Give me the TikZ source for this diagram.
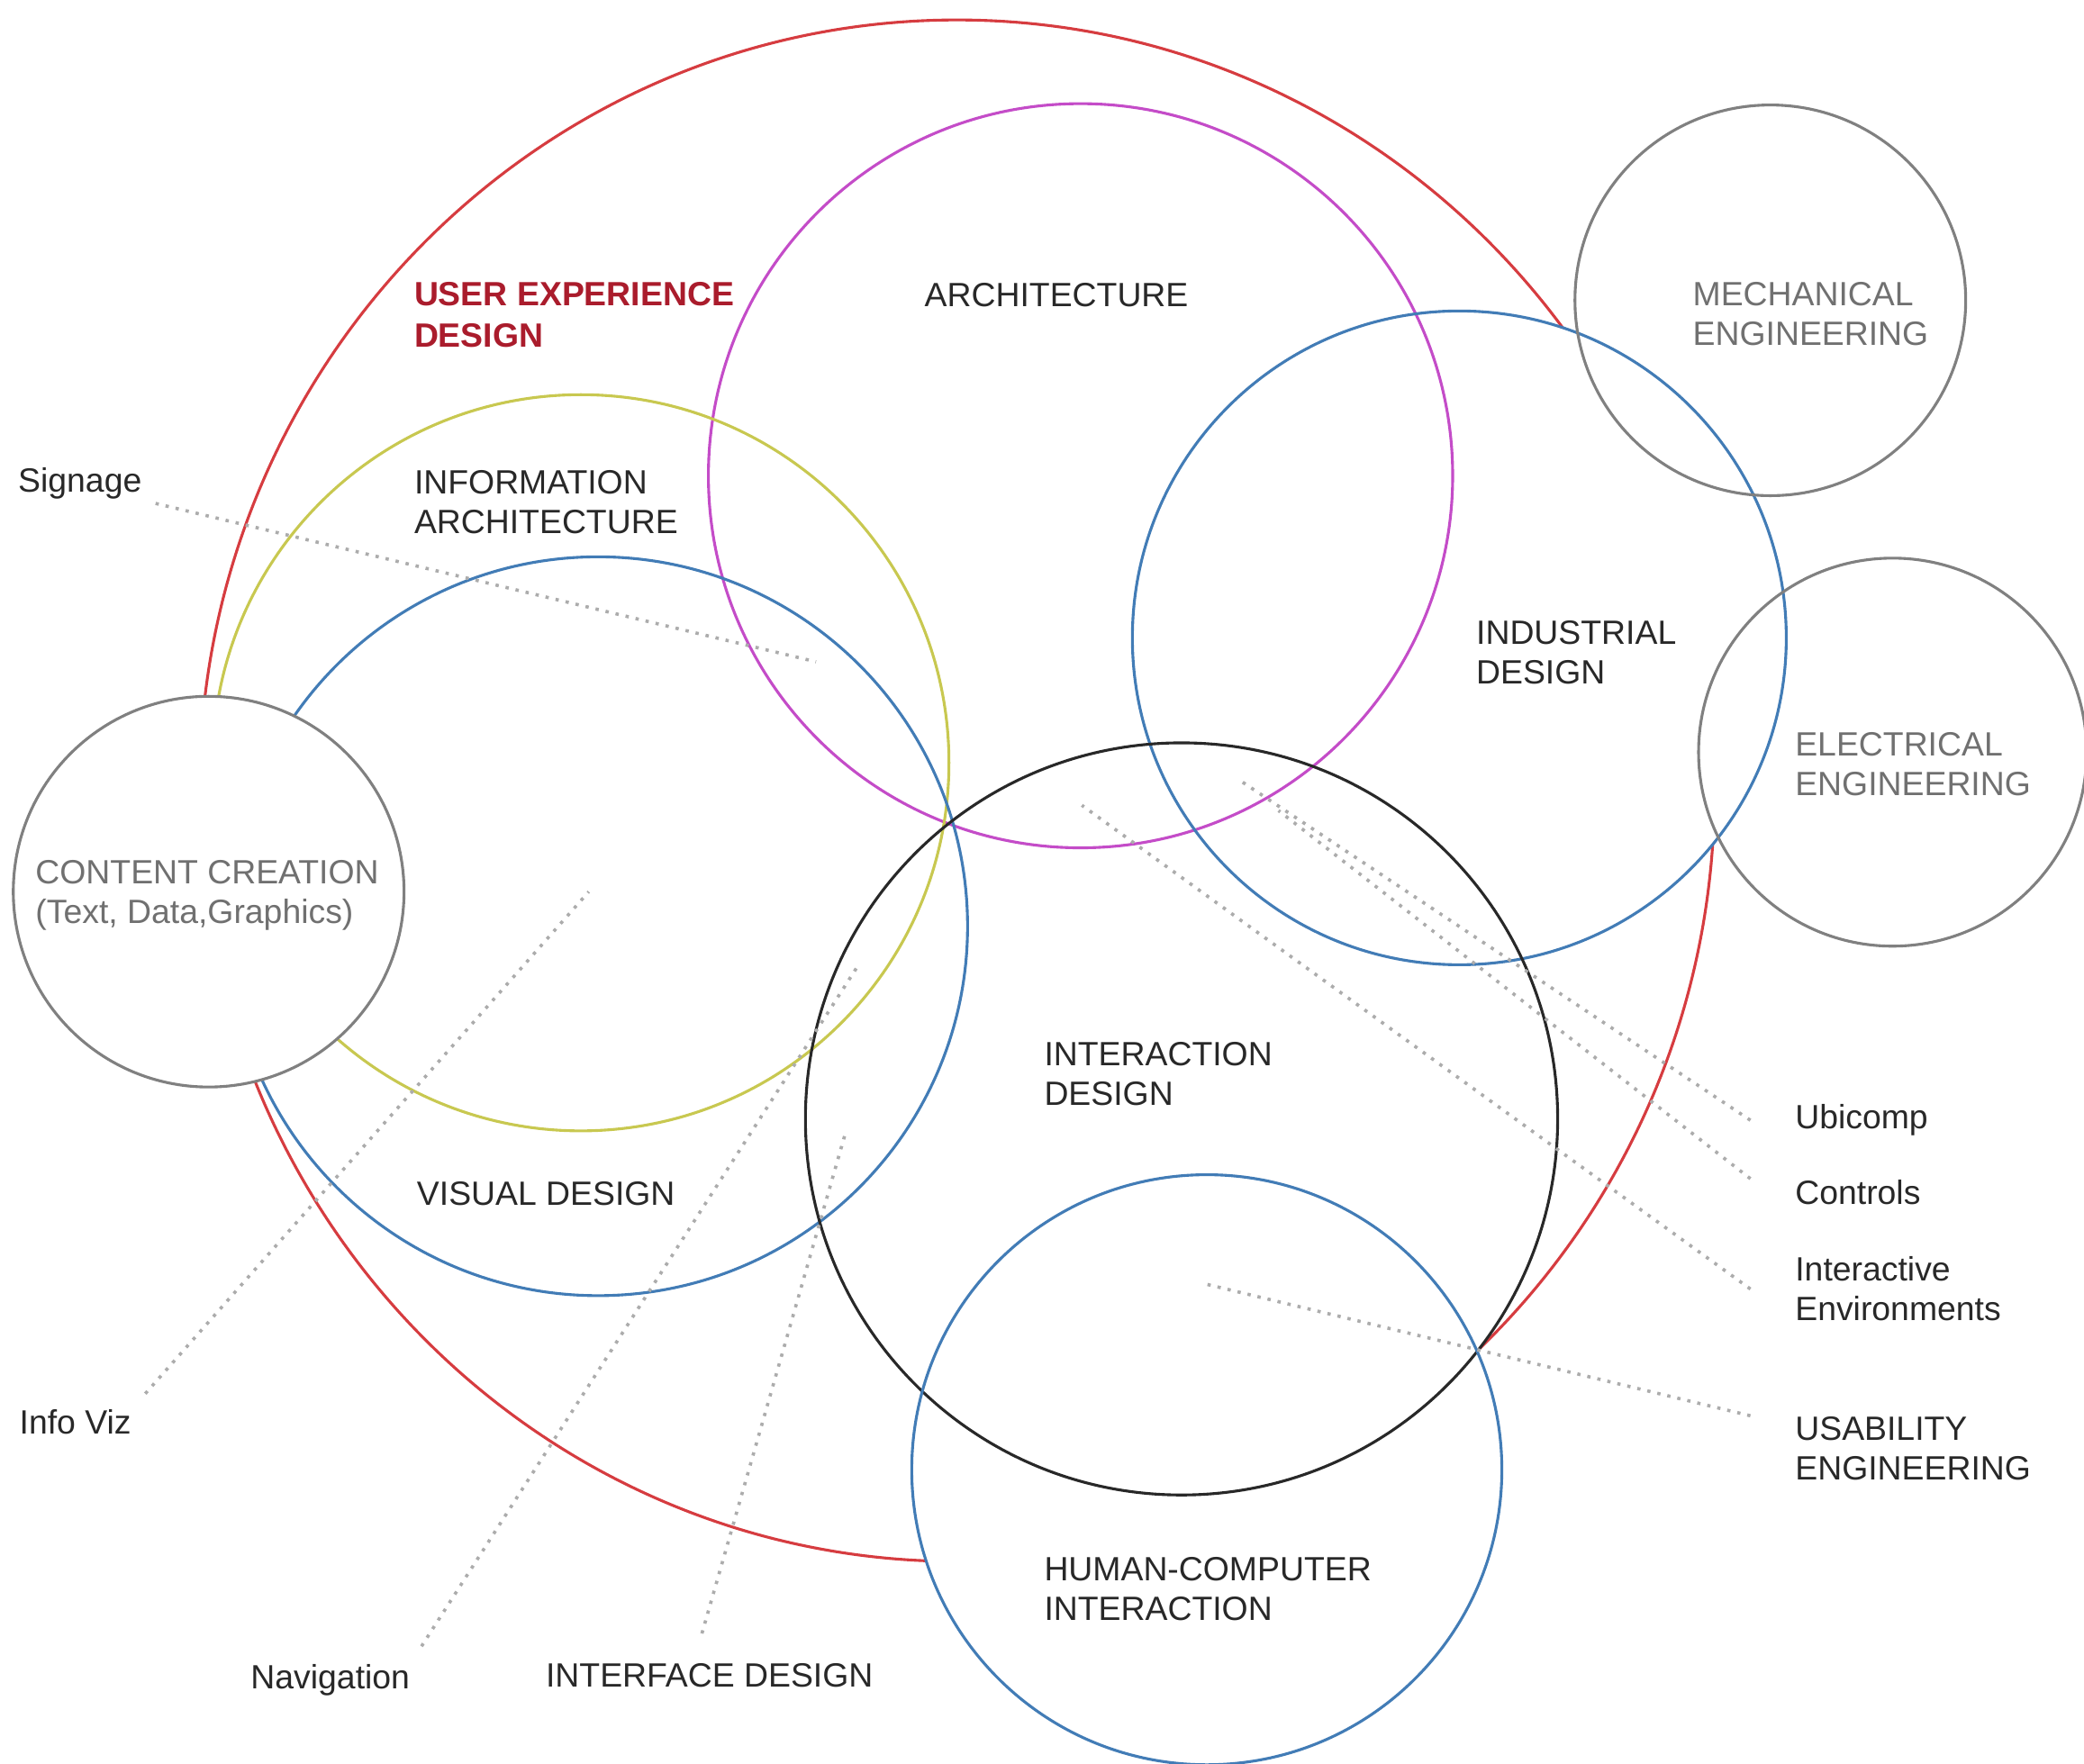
\documentclass[tikz,border=0pt]{standalone}
\usepackage{fontspec}
\setmainfont{Liberation Sans}

\definecolor{uxred}{RGB}{214,60,64}
\definecolor{uxtitle}{RGB}{170,28,44}
\definecolor{archmag}{RGB}{196,76,200}
\definecolor{iayellow}{RGB}{200,200,80}
\definecolor{fieldblue}{RGB}{66,124,182}
\definecolor{ixblack}{RGB}{40,40,40}
\definecolor{engray}{RGB}{128,128,128}
\definecolor{textgray}{RGB}{112,112,112}
\definecolor{dotgray}{RGB}{172,172,172}

\tikzset{
  ring/.style={line width=0.6pt},
  fieldtext/.style={font=\fontsize{7.2}{8.5}\selectfont, inner sep=0pt, anchor=west, align=left, text=ixblack},
  otherfield/.style={fieldtext, text=textgray},
  uxhead/.style={fieldtext, font=\fontsize{7.2}{8.8}\selectfont\bfseries, text=uxtitle},
  sidetext/.style={fieldtext, inner xsep=3.3mm},
  pointer/.style={dotgray, line width=0.7pt, dash pattern=on 0.7pt off 1.5pt}
}

\begin{document}
\begin{tikzpicture}[x=0.01cm, y=0.01cm]
    \useasboundingbox (0,0) rectangle (1568,-1327);
    % user experience design, hidden inside the filled discs
    \draw[ring, uxred] (720,-595) ellipse [x radius=570, y radius=580];
    \fill[white] (1098,-480) circle [radius=246];
    \fill[white] (889,-842) circle [radius=283];
    \fill[white] (908,-1106) circle [radius=222];
    % design fields
    \draw[ring, archmag] (813,-358) circle [radius=280];
    \draw[ring, iayellow] (437,-574) circle [radius=277];
    \draw[ring, fieldblue] (450,-697) circle [radius=278];
    \draw[ring, fieldblue] (1098,-480) circle [radius=246];
    \draw[ring, ixblack] (889,-842) circle [radius=283];
    \draw[ring, fieldblue] (908,-1106) circle [radius=222];
    % neighbour fields
    \draw[ring, engray] (1332,-226) circle [radius=147];
    \draw[ring, engray] (1424,-566) circle [radius=146];
    \draw[ring, engray, fill=white] (157,-671) circle [radius=147];
    % field names
    \node[uxhead] (ux) at (311,-237) {USER EXPERIENCE\\DESIGN};
    \node[fieldtext] (arch) at (695,-222) {ARCHITECTURE};
    \node[fieldtext] (infoarch) at (311,-378) {INFORMATION\\ARCHITECTURE};
    \node[otherfield] (content) at (26,-674) {CONTENT CREATION\\(Text, Data,Graphics)};
    \node[fieldtext] (visual) at (313,-898) {VISUAL DESIGN};
    \node[fieldtext] (interaction) at (785,-808) {INTERACTION\\DESIGN};
    \node[fieldtext] (hci) at (785,-1196) {HUMAN-COMPUTER\\INTERACTION};
    \node[fieldtext] (industrial) at (1110,-491) {INDUSTRIAL\\DESIGN};
    \node[otherfield] (mech) at (1273,-236) {MECHANICAL\\ENGINEERING};
    \node[otherfield] (elec) at (1350,-575) {ELECTRICAL\\ENGINEERING};
    % outside names
    \node[fieldtext] (signage) at (13,-364) {Signage};
    \node[fieldtext] (infoviz) at (14,-1070) {Info Viz};
    \node[fieldtext] (navigation) at (188,-1264) {Navigation};
    \node[fieldtext] (interface) at (410,-1261) {INTERFACE DESIGN};
    \node[sidetext] (ubicomp) at (1317,-843) {Ubicomp};
    \node[sidetext] (controls) at (1317,-897) {Controls};
    \node[sidetext] (interactive) at (1317,-970) {Interactive\\Environments};
    \node[sidetext] (usability) at (1317,-1090) {USABILITY\\ENGINEERING};
    % dotted pointers
    \coordinate (sigIn) at (614,-498);
    \coordinate (vizIn) at (443,-671);
    \coordinate (navIn) at (646,-726);
    \coordinate (ifaceIn) at (636,-853);
    \coordinate (ubiIn) at (934,-588);
    \coordinate (ctrlIn) at (962,-610);
    \coordinate (envIn) at (814,-606);
    \coordinate (usabIn) at (906,-966);
    \draw[pointer, shorten <=1mm] (signage.south east) -- (sigIn);
    \draw[pointer, shorten <=1.5mm] (infoviz.north east) -- (vizIn);
    \draw[pointer, shorten <=1.5mm] (navigation.north east) -- (navIn);
    \draw[pointer, shorten <=2.3mm] ([xshift=-1.2mm]interface.north) -- (ifaceIn);
    \draw[pointer] (ubicomp.west) -- (ubiIn);
    \draw[pointer] (controls.north west) -- (ctrlIn);
    \draw[pointer] (interactive.west) -- (envIn);
    \draw[pointer] (usability.north west) -- (usabIn);
\end{tikzpicture}
\end{document}
